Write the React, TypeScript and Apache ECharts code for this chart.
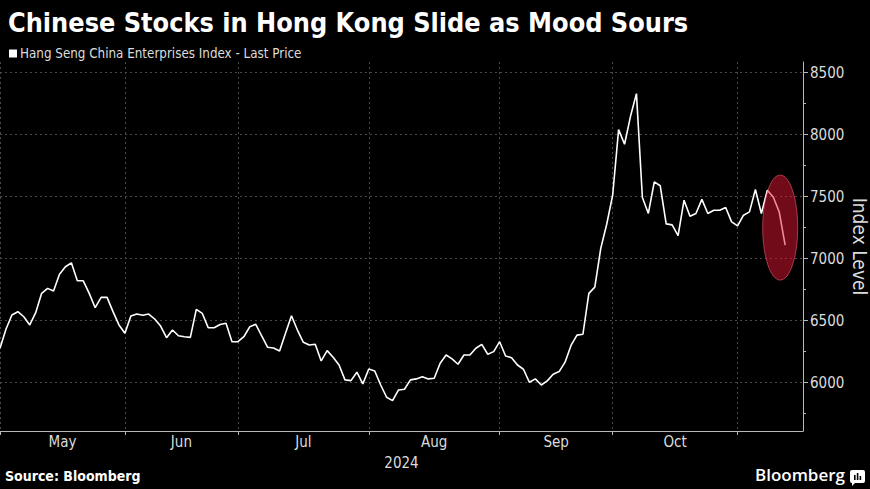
import React, { useEffect, useRef } from "react";
import * as echarts from "echarts";

const TITLE = "Chinese Stocks in Hong Kong Slide as Mood Sours";
const SERIES_NAME = "Hang Seng China Enterprises Index - Last Price";
const SOURCE = "Source: Bloomberg";
const BRAND = "Bloomberg";
const Y_NAME = "Index Level";
const YEAR_LABEL = "2024";

// Daily closes, one per Hong Kong trading day (early May -> mid Nov 2024)
const values: number[] = [
  6277, 6430, 6545, 6572, 6531, 6465, 6564, 6720, 6760, 6738,
  6873, 6934, 6966, 6821, 6821, 6720, 6604, 6687, 6687, 6572,
  6465, 6398, 6537, 6553, 6543, 6553, 6513, 6456, 6362, 6424,
  6378, 6370, 6365, 6591, 6559, 6443, 6443, 6468, 6478, 6330,
  6330, 6370, 6451, 6470, 6376, 6285, 6279, 6255, 6398, 6539,
  6424, 6325, 6303, 6309, 6175, 6258, 6204, 6142, 6022, 6016,
  6084, 5990, 6110, 6094, 5981, 5882, 5855, 5941, 5947, 6022,
  6030, 6048, 6030, 6035, 6156, 6223, 6191, 6148, 6223, 6223,
  6277, 6309, 6229, 6250, 6330, 6215, 6201, 6142, 6108, 6003,
  6030, 5981, 6014, 6068, 6089, 6165, 6300, 6383, 6390, 6720,
  6770, 7082, 7277, 7511, 8040, 7922, 8147, 8330, 7492, 7364,
  7618, 7587, 7280, 7272, 7185, 7471, 7342, 7364, 7477, 7364,
  7390, 7390, 7412, 7296, 7264, 7350, 7377, 7557, 7364, 7551,
  7497, 7377, 7109,
];

// Month names and the trading-day index at which each month starts
const monthNames = ["May", "Jun", "Jul", "Aug", "Sep", "Oct", "Nov"];
const monthStartIdx = [0, 21, 40, 62, 84, 103, 124];

// Y axis ticks
const yTicks = [6000, 6500, 7000, 7500, 8000, 8500];
const yMinorTicks = [5750, 6250, 6750, 7250, 7750, 8250];
const yMin = 5610;
const yMax = 8585;

// Highlighted latest slide (annotation)
const highlightValue = 7250;

// Empty trading-day slots kept after the last close (axis runs past the data)
const TRAILING_SLOTS = 3;

const FONT = "'DejaVu Sans Condensed', 'Liberation Sans', Roboto, sans-serif";

export default function App() {
  const ref = useRef<HTMLDivElement>(null);

  useEffect(() => {
    if (!ref.current) return;
    const chart = echarts.init(ref.current, undefined, { renderer: "svg" });

    const total = values.length + TRAILING_SLOTS;
    const categories: string[] = [];
    for (let i = 0; i < total; i++) categories.push(String(i));
    const halfCats: string[] = [];
    for (let i = 0; i <= (total - 1) * 2; i++) halfCats.push(String(i));
    const startSet = new Set(monthStartIdx);
    const labelMap = new Map<number, string>();
    for (let m = 0; m < monthStartIdx.length - 1; m++) {
      labelMap.set(monthStartIdx[m] + monthStartIdx[m + 1], monthNames[m]);
    }

    const gridColor = "#4a4a4a";
    const axisColor = "#b8b8b8";
    const textColor = "#dcdcdc";

    chart.setOption({
      animation: false,
      backgroundColor: "#000",
      textStyle: { fontFamily: FONT },
      title: {
        text: TITLE,
        left: 3,
        top: 4,
        textStyle: { color: "#fff", fontSize: 26.8, fontWeight: "bold", fontFamily: FONT },
      },
      legend: {
        data: [SERIES_NAME],
        left: 4,
        top: 42,
        icon: "rect",
        itemWidth: 8,
        itemHeight: 8,
        textStyle: { color: textColor, fontSize: 13.3, fontFamily: FONT, padding: [0, 0, 0, -2] },
      },
      grid: { left: 0, right: 67, top: 62, bottom: 58, containLabel: false },
      xAxis: [
        {
          type: "category",
          data: categories,
          boundaryGap: false,
          axisLine: { show: true, lineStyle: { color: axisColor, width: 1 } },
          axisTick: {
            show: true,
            length: 4,
            interval: (i: number) => startSet.has(i),
            lineStyle: { color: axisColor },
          },
          axisLabel: { show: false },
          splitLine: {
            show: true,
            interval: (i: number) => startSet.has(i),
            lineStyle: { color: gridColor, type: [2, 3], width: 1 },
          },
        },
        {
          type: "category",
          data: halfCats,
          boundaryGap: false,
          position: "bottom",
          axisLine: { show: false },
          axisTick: { show: false },
          splitLine: { show: false },
          axisLabel: {
            show: true,
            interval: (i: number) => labelMap.has(i),
            formatter: (_v: string, i: number) => labelMap.get(i) || "",
            color: textColor,
            fontSize: 15,
            margin: 3,
            fontFamily: FONT,
          },
          name: YEAR_LABEL,
          nameLocation: "middle",
          nameGap: 24,
          nameTextStyle: { color: textColor, fontSize: 15, fontFamily: FONT },
        },
      ],
      yAxis: [
        {
          type: "value",
          position: "right",
          min: yMin,
          max: yMax,
          axisLine: { show: true, lineStyle: { color: axisColor, width: 1 } },
          axisTick: { show: true, length: 5, customValues: yTicks, lineStyle: { color: axisColor } },
          axisLabel: {
            show: true,
            customValues: yTicks,
            formatter: (v: number) => String(v),
            color: textColor,
            fontSize: 15,
            margin: 7,
            fontFamily: FONT,
          },
          splitLine: {
            show: true,
            lineStyle: { color: gridColor, type: [2, 3], width: 1 },
          },
        },
        {
          type: "value",
          position: "right",
          min: yMin,
          max: yMax,
          axisLine: { show: false },
          axisTick: { show: true, length: 3, customValues: yMinorTicks, lineStyle: { color: axisColor } },
          axisLabel: { show: false },
          splitLine: { show: false },
        },
      ],
      series: [
        {
          name: SERIES_NAME,
          type: "line",
          data: values,
          xAxisIndex: 0,
          yAxisIndex: 0,
          showSymbol: false,
          symbol: "none",
          lineStyle: { color: "#ffffff", width: 1.6 },
          itemStyle: { color: "#ffffff" },
          z: 3,
        },
      ],
    });

    const n = values.length;
    const pt = chart.convertToPixel({ xAxisIndex: 0, yAxisIndex: 0 }, [n - 2, highlightValue]) as number[];
    const yMid = chart.convertToPixel({ yAxisIndex: 0 }, (yMin + yMax) / 2) as number;
    const W = 870;

    chart.setOption({
      graphic: [
        {
          type: "ellipse",
          shape: { cx: pt[0] + 1, cy: pt[1], rx: 17.5, ry: 52.5 },
          style: { fill: "rgba(225,20,50,0.5)", stroke: "rgba(255,100,120,0.55)", lineWidth: 1 },
          z: 100,
        },
        {
          type: "text",
          x: 860,
          y: yMid,
          rotation: -Math.PI / 2,
          style: {
            text: Y_NAME,
            fill: textColor,
            font: `19px ${FONT}`,
            align: "center",
            verticalAlign: "middle",
          },
        },
        {
          type: "text",
          left: 5,
          top: 469,
          style: {
            text: SOURCE,
            fill: "#fff",
            font: `bold 14px ${FONT}`,
          },
        },
        {
          type: "text",
          right: W - 845,
          top: 466,
          style: {
            text: BRAND,
            fill: "#fff",
            font: `600 17px 'Open Sans', Lato, Roboto, sans-serif`,
          },
        },
        {
          type: "group",
          left: 850,
          top: 470,
          children: [
            { type: "rect", shape: { x: 0, y: 0, width: 15, height: 13, r: 2 }, style: { fill: "#fff" } },
            { type: "polygon", shape: { points: [[2, 12], [6, 12], [2, 16]] }, style: { fill: "#fff" } },
            { type: "rect", shape: { x: 4, y: 5, width: 1.6, height: 5 }, style: { fill: "#000" } },
            { type: "rect", shape: { x: 6.8, y: 3, width: 1.6, height: 7 }, style: { fill: "#000" } },
            { type: "rect", shape: { x: 9.6, y: 6, width: 1.6, height: 4 }, style: { fill: "#000" } },
          ],
        },
      ],
    });

    return () => chart.dispose();
  }, []);

  return (
    <div
      ref={ref}
      style={{ position: "fixed", left: 0, top: 0, width: 870, height: 489, background: "#000" }}
    />
  );
}
